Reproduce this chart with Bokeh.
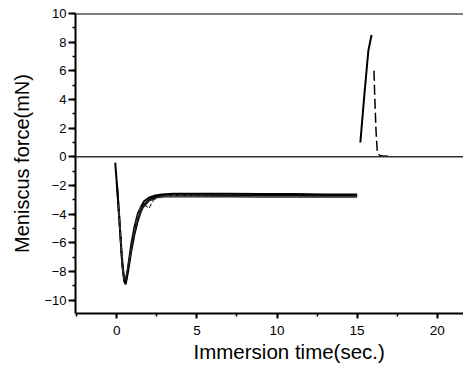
from bokeh.plotting import figure
from bokeh.models import Range1d, SingleIntervalTicker, Span, Title
from bokeh.embed import file_html
from bokeh.resources import INLINE

# --- data (time in s, force in mN) ---
t1 = [-0.1, 0.05, 0.2, 0.35, 0.5, 0.6, 0.75, 0.9, 1.1, 1.3, 1.5, 1.7, 2.0, 2.4, 2.8, 3.5, 5, 7, 9, 11, 13, 15]
f1 = [-0.4, -2.6, -5.1, -7.7, -8.8, -8.5, -7.3, -6.1, -4.9, -4.0, -3.5, -3.1, -2.85, -2.7, -2.62, -2.58, -2.57, -2.57, -2.6, -2.6, -2.62, -2.62]

t2 = [0.0, 0.15, 0.3, 0.45, 0.55, 0.7, 0.9, 1.1, 1.3, 1.5, 1.7, 2.0, 2.4, 2.8, 3.5, 5, 7, 9, 11, 13, 15]
f2 = [-1.8, -4.2, -6.8, -8.6, -8.9, -8.0, -6.6, -5.4, -4.5, -3.8, -3.35, -3.0, -2.8, -2.7, -2.68, -2.68, -2.7, -2.7, -2.7, -2.72, -2.72]

t3 = [0.1, 0.25, 0.4, 0.5, 0.65, 0.85, 1.05, 1.25, 1.5, 1.8, 2.0, 2.3, 2.7, 3.2, 5, 7, 9, 11, 13, 15]
f3 = [-3.3, -5.9, -8.1, -8.6, -8.0, -6.7, -5.4, -4.3, -3.5, -3.4, -3.6, -3.0, -2.78, -2.7, -2.72, -2.75, -2.75, -2.75, -2.76, -2.76]

t4 = [0.3, 0.45, 0.6, 0.8, 1.0, 1.3, 1.6, 2.0, 2.5, 3.0, 5, 7, 9, 11, 13, 15]
f4 = [-7.0, -8.6, -8.3, -7.0, -5.8, -4.4, -3.6, -3.1, -2.85, -2.8, -2.8, -2.8, -2.82, -2.82, -2.82, -2.82]

t_up = [15.2, 15.45, 15.7, 15.9]
f_up = [1.0, 4.3, 7.4, 8.5]

t_down = [16.05, 16.1, 16.18, 16.26, 16.4, 16.7, 17.2]
f_down = [6.0, 4.2, 1.8, 0.3, 0.1, 0.05, 0.03]

p = figure(width=463, height=363, output_backend="svg", toolbar_location=None,
           x_range=Range1d(-2.58, 21.64), y_range=Range1d(-10.93, 10.0),
           min_border_left=75, min_border_right=0, min_border_top=13, min_border_bottom=50)
p.outline_line_color = None
p.grid.visible = False
p.background_fill_color = "white"
p.border_fill_color = "white"

FONT = "Liberation Sans"

p.xaxis.ticker = SingleIntervalTicker(interval=5, num_minor_ticks=2)
p.yaxis.ticker = SingleIntervalTicker(interval=2, num_minor_ticks=2)
for ax in (p.xaxis[0], p.yaxis[0]):
    ax.axis_line_width = 2
    ax.axis_line_color = "black"
    ax.major_tick_line_width = 2
    ax.minor_tick_line_width = 1.5
    ax.major_tick_in = 0
    ax.minor_tick_in = 0
    ax.major_label_text_font = FONT
    ax.major_label_text_color = "black"
    ax.axis_label_text_font = FONT
    ax.axis_label_text_font_style = "normal"
    ax.axis_label_text_color = "black"
p.xaxis.major_tick_out = 5
p.xaxis.minor_tick_out = 3
p.yaxis.major_tick_out = 7
p.yaxis.minor_tick_out = 3
p.xaxis.major_label_text_font_size = "13.5px"
p.yaxis.major_label_text_font_size = "13px"
p.xaxis.major_label_standoff = 7
p.yaxis.major_label_standoff = 2
p.yaxis.axis_label = "Meniscus force(mN)"
p.yaxis.axis_label_text_font_size = "20px"
p.yaxis.axis_label_standoff = 8

p.add_layout(Title(text="Immersion time(sec.)", align="left", offset=118,
                   text_font=FONT, text_font_size="20.5px", text_font_style="normal",
                   text_color="black", standoff=1), "below")

# top frame edge and zero line
p.add_layout(Span(location=10, dimension="width", line_color="black", line_width=2))
p.add_layout(Span(location=0, dimension="width", line_color="#333333", line_width=1.5))

p.line(t1, f1, line_color="black", line_width=2)
p.line(t2, f2, line_color="black", line_width=2)
p.line(t3, f3, line_color="#444444", line_width=1.2, line_dash="5 2")
p.line(t4, f4, line_color="#222222", line_width=1.2)
p.line(t_up, f_up, line_color="black", line_width=2)
p.line(t_down, f_down, line_color="black", line_width=1.5, line_dash="10 4")

open("out.html", "w").write(file_html(p, INLINE))
